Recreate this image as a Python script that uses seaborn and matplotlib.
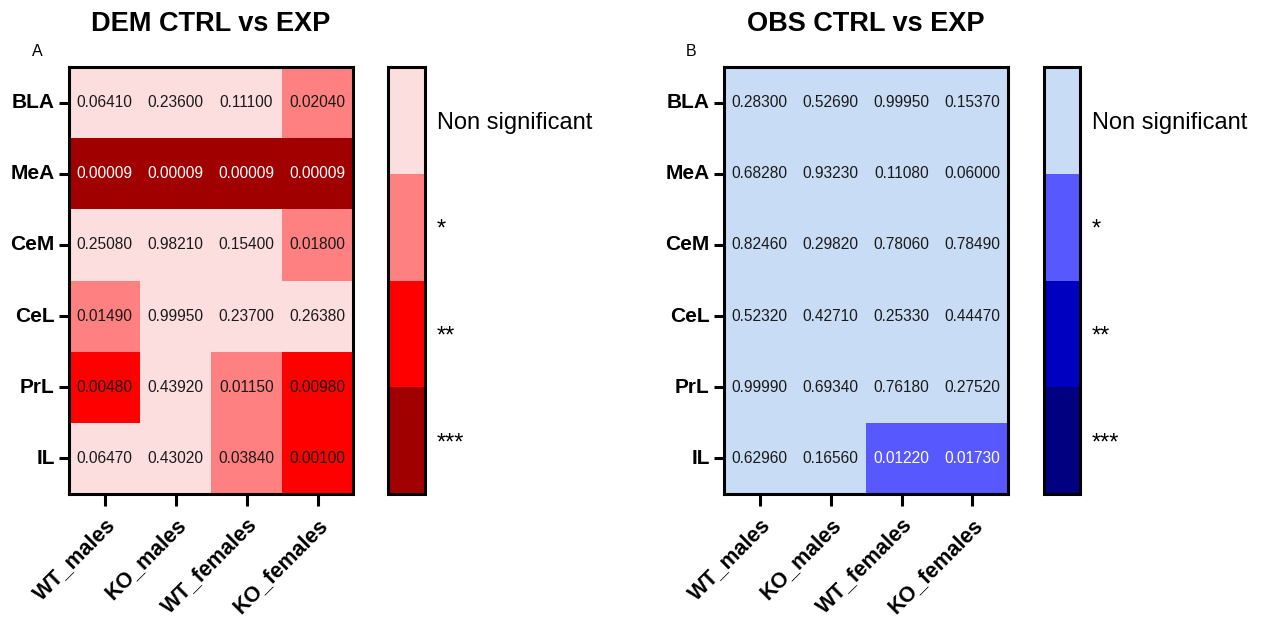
import numpy as np
import pandas as pd
import seaborn as sns
import matplotlib.pyplot as plt
from matplotlib.colors import ListedColormap

regions = ["BLA", "MeA", "CeM", "CeL", "PrL", "IL"]
groups = ["WT_males", "KO_males", "WT_females", "KO_females"]

dem_p = [
    [0.06410, 0.23600, 0.11100, 0.02040],
    [0.00009, 0.00009, 0.00009, 0.00009],
    [0.25080, 0.98210, 0.15400, 0.01800],
    [0.01490, 0.99950, 0.23700, 0.26380],
    [0.00480, 0.43920, 0.01150, 0.00980],
    [0.06470, 0.43020, 0.03840, 0.00100],
]
obs_p = [
    [0.28300, 0.52690, 0.99950, 0.15370],
    [0.68280, 0.93230, 0.11080, 0.06000],
    [0.82460, 0.29820, 0.78060, 0.78490],
    [0.52320, 0.42710, 0.25330, 0.44470],
    [0.99990, 0.69340, 0.76180, 0.27520],
    [0.62960, 0.16560, 0.01220, 0.01730],
]

# significance classes: 0 = ***, 1 = **, 2 = *, 3 = non significant
sig_cutoffs = [0.001, 0.01, 0.05]
sig_labels = ["***", "**", "*", "Non significant"]
red_colors = ["#A00000", "#FF0000", "#FF8080", "#FDDEDF"]
blue_colors = ["#000080", "#0000C0", "#5858FF", "#C8DCF5"]
red_text = ["white", "#1a1a1a", "#1a1a1a", "#1a1a1a"]
blue_text = ["white", "white", "white", "#1a1a1a"]

sns.set_theme(style="ticks")
plt.rcParams["font.family"] = ["Liberation Sans", "DejaVu Sans"]

W, H = 1268, 617
fig = plt.figure(figsize=(W / 100, H / 100), dpi=100)


def px_axes(x0, y0, x1, y1):
    return fig.add_axes([x0 / W, 1 - y1 / H, (x1 - x0) / W, (y1 - y0) / H])


def draw_panel(ax, cax, pvals, colors, text_colors, title, letter, letter_x):
    p_df = pd.DataFrame(pvals, index=regions, columns=groups)
    cat = np.digitize(p_df.values, sig_cutoffs)
    cat_df = pd.DataFrame(cat, index=regions, columns=groups)
    sns.heatmap(
        cat_df, ax=ax, cbar_ax=cax, cmap=ListedColormap(colors),
        vmin=-0.5, vmax=3.5, annot=p_df, fmt=".5f",
        annot_kws={"size": 11.2}, cbar_kws={"ticks": [0, 1, 2, 3]},
    )
    for t in ax.texts:
        x, y = t.get_position()
        t.set_color(text_colors[cat[int(y), int(x)]])

    for sp in ax.spines.values():
        sp.set_visible(True)
        sp.set_linewidth(2.2)
        sp.set_color("black")
    ax.tick_params(axis="y", left=True, length=7.5, width=2.2, pad=2.7,
                   labelsize=15, color="black", labelcolor="black")
    ax.tick_params(axis="x", bottom=True, length=8.5, width=2.2, pad=6,
                   labelsize=15.5, color="black", labelcolor="black")
    ax.set_yticklabels(regions, rotation=0, fontweight="bold")
    ax.set_xticklabels(groups, rotation=45, ha="right",
                       rotation_mode="anchor", fontweight="bold")
    ax.set_xlabel("")
    ax.set_ylabel("")
    ax.set_title(title, fontsize=19.5, fontweight="bold", pad=26,
                 color="black")

    cbar = ax.collections[0].colorbar
    cbar.set_ticks([0, 1, 2, 3])
    cbar.set_ticklabels(sig_labels)
    cbar.outline.set_linewidth(2.2)
    cbar.outline.set_edgecolor("black")
    cbar.ax.tick_params(direction="in", left=True, right=True, length=4.5,
                        width=2.2, labelsize=17, pad=8.5, color="black",
                        labelcolor="black")

    fig.text(letter_x / W, 1 - 52 / H, letter, fontsize=11.5,
             ha="center", va="center", color="black")


ax1 = px_axes(69, 67, 353, 494)
cax1 = px_axes(388, 67, 425, 494)
ax2 = px_axes(724, 67, 1008, 494)
cax2 = px_axes(1044, 67, 1080, 494)

draw_panel(ax1, cax1, dem_p, red_colors, red_text, "DEM CTRL vs EXP", "A", 37)
draw_panel(ax2, cax2, obs_p, blue_colors, blue_text, "OBS CTRL vs EXP", "B", 691)

fig.savefig("out.png", dpi=100, facecolor="white")
